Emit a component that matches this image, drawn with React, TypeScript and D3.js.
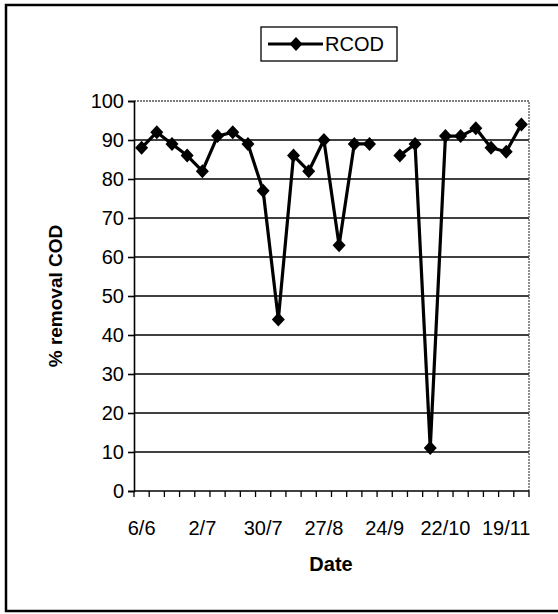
import { useEffect, useRef } from 'react';
import * as d3 from 'd3';

// weekly samples; null = no sample that week
const rcod: (number | null)[] = [
  88, 92, 89, 86, 82, 91, 92, 89, 77, 44, 86, 82, 90, 63, 89, 89, null, 86, 89, 11,
  91, 91, 93, 88, 87, 94,
];
// labels shown under every 4th week
const dateLabels = ['6/6', '2/7', '30/7', '27/8', '24/9', '22/10', '19/11'];
const yTicks = [0, 10, 20, 30, 40, 50, 60, 70, 80, 90, 100];

const W = 558;
const H = 614;
const FONT = 'Arial, "Liberation Sans", sans-serif';

// rotated-square marker like Excel's
const diamondPath = (r: number) => `M0,${-r - 0.5}L${r},0L0,${r + 0.5}L${-r},0Z`;

export default function App() {
  const svgRef = useRef<SVGSVGElement>(null);

  useEffect(() => {
    if (!svgRef.current) return;
    const svg = d3.select(svgRef.current);
    svg.selectAll('*').remove();

    // outer frame (right edge falls off the picture)
    svg
      .append('rect')
      .attr('x', 6)
      .attr('y', 5)
      .attr('width', W + 10)
      .attr('height', 606)
      .attr('fill', '#fff')
      .attr('stroke', '#000')
      .attr('stroke-width', 2.5);

    const margin = { top: 101, right: 29, bottom: 123, left: 134 };
    const innerWidth = W - margin.left - margin.right;
    const innerHeight = H - margin.top - margin.bottom;

    const g = svg
      .append('g')
      .attr('transform', `translate(${margin.left},${margin.top})`);

    const idx = rcod.map((_, i) => i);
    const x = d3.scaleBand<number>().domain(idx).range([0, innerWidth]);
    const y = d3.scaleLinear().domain([0, 100]).range([innerHeight, 0]);

    // gridlines
    g.selectAll('.grid')
      .data(yTicks.slice(1, -1))
      .join('line')
      .attr('x1', 0)
      .attr('x2', innerWidth)
      .attr('y1', (d) => y(d))
      .attr('y2', (d) => y(d))
      .attr('stroke', '#000')
      .attr('stroke-width', 1.3);

    // plot area border (top/right)
    g.append('path')
      .attr('d', `M0,${y(100)}H${innerWidth}V${innerHeight}`)
      .attr('fill', 'none')
      .attr('stroke', '#555')
      .attr('stroke-width', 1.3)
      .attr('stroke-dasharray', '2,1');

    // y axis
    const yAxis = g
      .append('g')
      .call(d3.axisLeft(y).tickValues(yTicks).tickSize(6).tickPadding(4));
    yAxis.select('.domain').attr('stroke', '#000').attr('stroke-width', 1.6);
    yAxis.selectAll('line').attr('stroke-width', 1.6);
    yAxis
      .selectAll('text')
      .attr('font-family', FONT)
      .attr('font-size', 20)
      .attr('fill', '#000');

    // x axis: ticks between weeks, labels every 4th week
    const xa = g.append('g').attr('transform', `translate(0,${innerHeight})`);
    xa.append('line')
      .attr('x1', 0)
      .attr('x2', innerWidth)
      .attr('stroke', '#000')
      .attr('stroke-width', 1.6);
    const bounds = [...idx.map((i) => x(i) || 0), innerWidth];
    xa.selectAll('.tick')
      .data(bounds)
      .join('line')
      .attr('x1', (d) => d)
      .attr('x2', (d) => d)
      .attr('y1', 0)
      .attr('y2', 6)
      .attr('stroke', '#000')
      .attr('stroke-width', 1.3);
    xa.selectAll('.xl')
      .data(dateLabels)
      .join('text')
      .attr('x', (_, i) => (x(i * 4) || 0) + x.bandwidth() / 2)
      .attr('y', 44)
      .attr('text-anchor', 'middle')
      .attr('font-family', FONT)
      .attr('font-size', 20)
      .text((d) => d);

    // series
    const cx = (i: number) => (x(i) || 0) + x.bandwidth() / 2;
    const line = d3
      .line<number | null>()
      .defined((d) => d !== null)
      .x((_, i) => cx(i))
      .y((d) => y(d as number));
    g.append('path')
      .datum(rcod)
      .attr('d', line)
      .attr('fill', 'none')
      .attr('stroke', '#000')
      .attr('stroke-width', 3.2)
      .attr('stroke-linejoin', 'round');

    g.selectAll('.pt')
      .data(rcod.map((v, i) => ({ v, i })).filter((d) => d.v !== null))
      .join('path')
      .attr('transform', (d) => `translate(${cx(d.i)},${y(d.v as number)})`)
      .attr('d', diamondPath(6.5))
      .attr('fill', '#000');

    // axis titles
    svg
      .append('text')
      .attr('transform', `translate(62,${margin.top + innerHeight / 2}) rotate(-90)`)
      .attr('text-anchor', 'middle')
      .attr('font-family', FONT)
      .attr('font-weight', 'bold')
      .attr('font-size', 19)
      .text('% removal COD');
    svg
      .append('text')
      .attr('x', 331)
      .attr('y', 571)
      .attr('text-anchor', 'middle')
      .attr('font-family', FONT)
      .attr('font-weight', 'bold')
      .attr('font-size', 20)
      .text('Date');

    // legend
    const lg = svg.append('g').attr('transform', 'translate(261,27)');
    lg.append('rect')
      .attr('width', 136)
      .attr('height', 34)
      .attr('fill', '#fff')
      .attr('stroke', '#000')
      .attr('stroke-width', 1.3);
    lg.append('line')
      .attr('x1', 7)
      .attr('x2', 62)
      .attr('y1', 17)
      .attr('y2', 17)
      .attr('stroke', '#000')
      .attr('stroke-width', 3.2);
    lg.append('path')
      .attr('transform', 'translate(35,17)')
      .attr('d', diamondPath(6.5))
      .attr('fill', '#000');
    lg.append('text')
      .attr('x', 64)
      .attr('y', 24)
      .attr('font-family', FONT)
      .attr('font-size', 20)
      .text('RCOD');
  }, []);

  return (
    <svg
      ref={svgRef}
      width={W}
      height={H}
      style={{ position: 'absolute', left: 0, top: 0, background: '#fff' }}
    />
  );
}
